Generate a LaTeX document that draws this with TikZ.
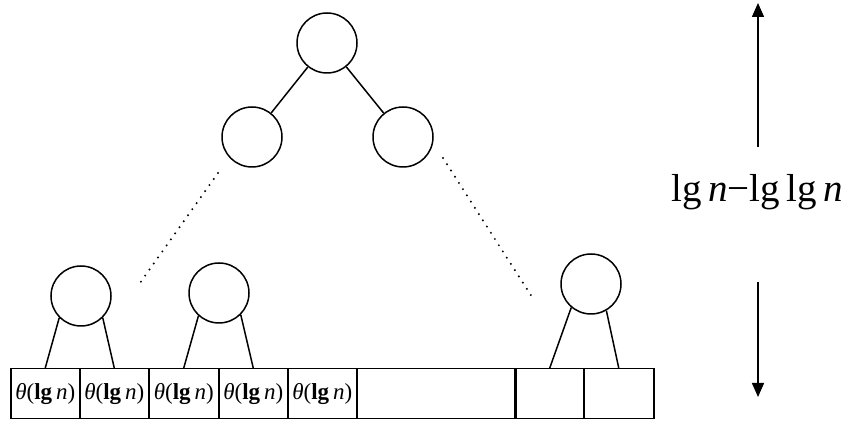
\documentclass[tikz,border=0pt]{standalone}
\usepackage{fontspec}
\setmainfont{Liberation Serif}
\usetikzlibrary{arrows.meta}

\newcommand{\thlg}{\textit{θ}(\textbf{lg}\,\textit{n})}

\begin{document}
\begin{tikzpicture}[
      x=0.5pt, y=-0.5pt,
      every node/.style={font=\fontsize{11.5}{13}\selectfont},
      vtx/.style={circle, draw, line width=0.75pt, minimum size=30pt, inner sep=0pt},
      cell/.style={draw, line width=0.75pt, minimum height=25pt, inner sep=0pt, anchor=north west},
      edge/.style={line width=0.75pt},
      gap/.style={line width=1.1pt, line cap=round, dash pattern=on 0pt off 3.7pt},
      span/.style={line width=0.75pt, -{Triangle[length=7pt,width=6pt]}}
    ]
    \useasboundingbox (0,0) rectangle (852,421);

    \node[vtx] (root) at (327,43) {};
    \node[vtx] (l1) at (252,137) {};
    \node[vtx] (r1) at (403,137) {};
    \draw[edge] (root) -- (l1);
    \draw[edge] (root) -- (r1);

    \coordinate (dl0) at (218,173);
    \coordinate (dl1) at (140,283);
    \coordinate (dr0) at (443,158);
    \coordinate (dr1) at (532,297);
    \draw[gap] (dl0) -- (dl1);
    \draw[gap] (dr0) -- (dr1);

    \foreach \i/\x/\w/\lab in {
      1/10/69/{\thlg},
      2/79/69/{\thlg},
      3/148/70/{\thlg},
      4/218/69/{\thlg},
      5/287/69/{\thlg},
      6/356/159/{},
      7/515/68/{},
      8/583/70/{}
    }{
      \node[cell, minimum width=\w*0.5pt] (c\i) at (\x,368) {\lab};
    }
    \draw[line width=1.3pt] (c7.north west) -- (c7.south west);

    \node[vtx] (b1) at (81,296) {};
    \node[vtx] (b2) at (219,293) {};
    \node[vtx] (b3) at (591,284) {};
    \draw[edge] (b1.225) -- (c1.north);
    \draw[edge] (b1.315) -- (c2.north);
    \draw[edge] (b2.228) -- (c3.north);
    \draw[edge] (b2.315) -- (c4.north);
    \draw[edge] (b3.230) -- (c7.north);
    \draw[edge] (b3.300) -- (c8.north);

    \node[font=\fontsize{19.5}{22}\selectfont] (lev) at (757,192) {lg\,\textit{n}−lg\,lg\,\textit{n}};
    \coordinate (upA) at (758,147);
    \coordinate (upB) at (758,3);
    \coordinate (dnA) at (758,282);
    \coordinate (dnB) at (758,397);
    \draw[span] (upA) -- (upB);
    \draw[span] (dnA) -- (dnB);
\end{tikzpicture}
\end{document}
